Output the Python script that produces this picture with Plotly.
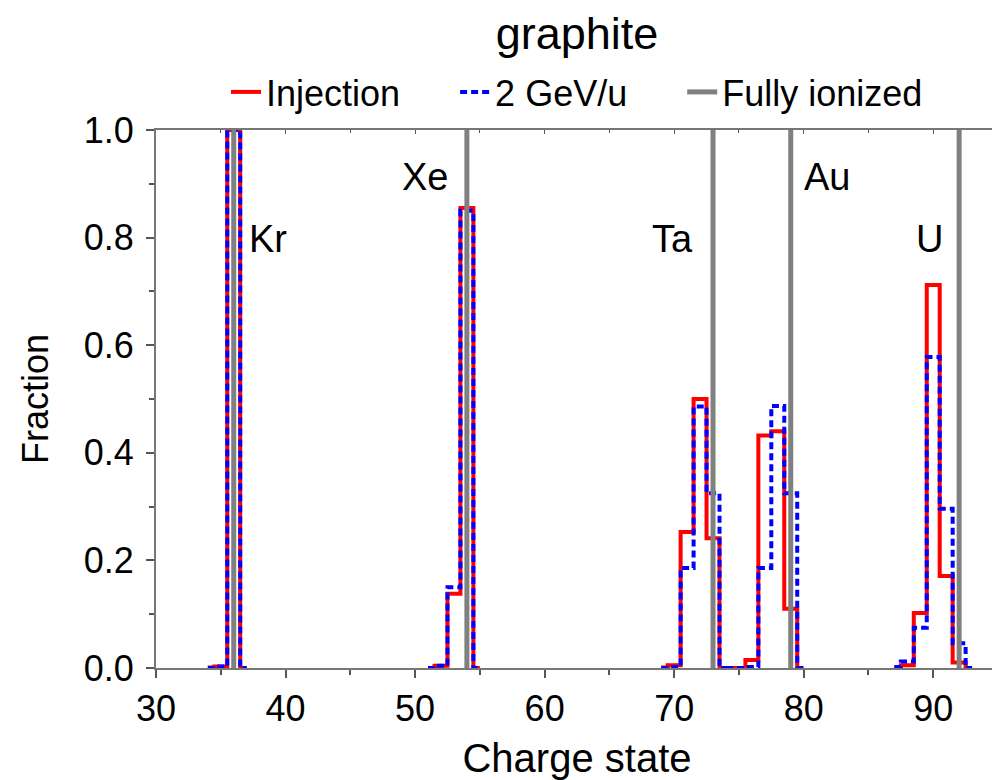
import plotly.graph_objects as go

# Charge states and fractions per element
kr_q = [34, 35, 36, 37]
kr_inj = [0.001, 0.003, 1.0, 0.0]
kr_2g = [0.0, 0.003, 1.0, 0.0]

xe_q = [51, 52, 53, 54, 55]
xe_inj = [0.0, 0.004, 0.138, 0.855, 0.0]
xe_2g = [0.0, 0.004, 0.150, 0.850, 0.0]

ta_q = [69, 70, 71, 72, 73, 74]
ta_inj = [0.001, 0.005, 0.253, 0.500, 0.241, 0.0]
ta_2g = [0.0, 0.002, 0.186, 0.486, 0.325, 0.0]

au_q = [74, 75, 76, 77, 78, 79, 80]
au_inj = [0.0, 0.0, 0.015, 0.432, 0.440, 0.110, 0.0]
au_2g = [0.0, 0.0, 0.002, 0.186, 0.487, 0.325, 0.0]

u_q = [87, 88, 89, 90, 91, 92, 93]
u_inj = [0.0, 0.005, 0.102, 0.712, 0.171, 0.010, 0.0]
u_2g = [0.002, 0.012, 0.075, 0.578, 0.296, 0.046, 0.0]

fully_ionized = [36, 54, 73, 79, 92]
element_labels = ["Kr", "Xe", "Ta", "Au", "U"]
label_x = [37.0, 48.8, 68.1, 79.9, 88.5]
label_y = [0.797, 0.913, 0.797, 0.913, 0.797]

series_names = ["Injection", "2 GeV/u", "Fully ionized"]

x_ticks = [30, 40, 50, 60, 70, 80, 90]
y_ticks = [0, 0.2, 0.4, 0.6, 0.8, 1.0]
y_ticktext = ["0.0", "0.2", "0.4", "0.6", "0.8", "1.0"]

FONT = "Liberation Sans, Arial, sans-serif"
PAD = "\u00a0" * 5  # extra spacing between legend entries

# the page body has an 8px margin, so the figure is sized/offset to compensate
W, H = 992, 772

fig = go.Figure()

groups = [(kr_q, kr_inj, kr_2g), (xe_q, xe_inj, xe_2g), (ta_q, ta_inj, ta_2g),
          (au_q, au_inj, au_2g), (u_q, u_inj, u_2g)]

for i, (q, inj, g2) in enumerate(groups):
    fig.add_trace(go.Scatter(x=q, y=inj, mode="lines", line=dict(color="#ff0000", width=4, shape="hvh"),
                             name=series_names[0] + PAD, legendgroup="inj", showlegend=(i == 0)))
for i, (q, inj, g2) in enumerate(groups):
    fig.add_trace(go.Scatter(x=q, y=g2, mode="lines",
                             line=dict(color="#0000ff", width=4, shape="hvh", dash="7px,4px"),
                             name=series_names[1] + PAD, legendgroup="g2", showlegend=(i == 0)))
for i, z in enumerate(fully_ionized):
    fig.add_trace(go.Scatter(x=[z, z], y=[0, 1], mode="lines", line=dict(color="#808080", width=5),
                             name=series_names[2], legendgroup="fi", showlegend=(i == 0)))

for lab, lx, ly in zip(element_labels, label_x, label_y):
    fig.add_annotation(x=lx, y=ly, text=lab, showarrow=False, xanchor="left", yanchor="middle",
                       font=dict(size=38, color="black", family=FONT))

fig.add_trace(go.Scatter(x=[30], y=[0], xaxis="x2", mode="markers", marker=dict(opacity=0),
                         showlegend=False, hoverinfo="skip"))

fig.update_layout(
    width=W, height=H,
    margin=dict(l=148, r=2, t=122, b=112, autoexpand=False),
    plot_bgcolor="white", paper_bgcolor="white",
    font=dict(family=FONT, color="black"),
    title=dict(text="graphite", x=0.5, xref="paper", y=1 - 25 / H, yref="container", yanchor="middle",
               font=dict(size=45, family=FONT, color="black")),
    legend=dict(orientation="h", x=0.5, xanchor="center", xref="paper", y=1 - 84 / H, yref="container",
                yanchor="middle", font=dict(size=36, family=FONT, color="black"),
                bgcolor="rgba(0,0,0,0)", traceorder="normal"),
    xaxis=dict(range=[30, 95], tickvals=x_ticks, ticks="outside", ticklen=8,
               tickwidth=1.5, tickcolor="#555", showline=True, linecolor="#777", linewidth=2,
               showgrid=False, zeroline=False, tickfont=dict(size=36), automargin=False,
               minor=dict(dtick=5, tick0=30, ticks="outside", ticklen=5, tickcolor="#555"),
               title=dict(text="Charge state", font=dict(size=40), standoff=20)),
    xaxis2=dict(range=[30, 95], overlaying="x", side="top", ticks="inside", ticklen=4,
                tickvals=x_ticks, tickcolor="#555", showline=True, linecolor="#777",
                linewidth=2, showticklabels=False, showgrid=False, zeroline=False, automargin=False,
                minor=dict(dtick=5, tick0=30, ticks="inside", ticklen=3, tickcolor="#555")),
    yaxis=dict(range=[0, 1], tickvals=y_ticks, ticktext=y_ticktext,
               ticks="outside", ticklen=8, tickwidth=1.5, tickcolor="#555", showline=True, linecolor="#777",
               linewidth=2, showgrid=False, zeroline=False, tickfont=dict(size=36), automargin=False,
               ticklabelstandoff=5,
               minor=dict(dtick=0.1, tick0=0, ticks="outside", ticklen=5, tickcolor="#555"),
               title=dict(text="Fraction", font=dict(size=36), standoff=24)),
)

fig.write_html("out.html")
